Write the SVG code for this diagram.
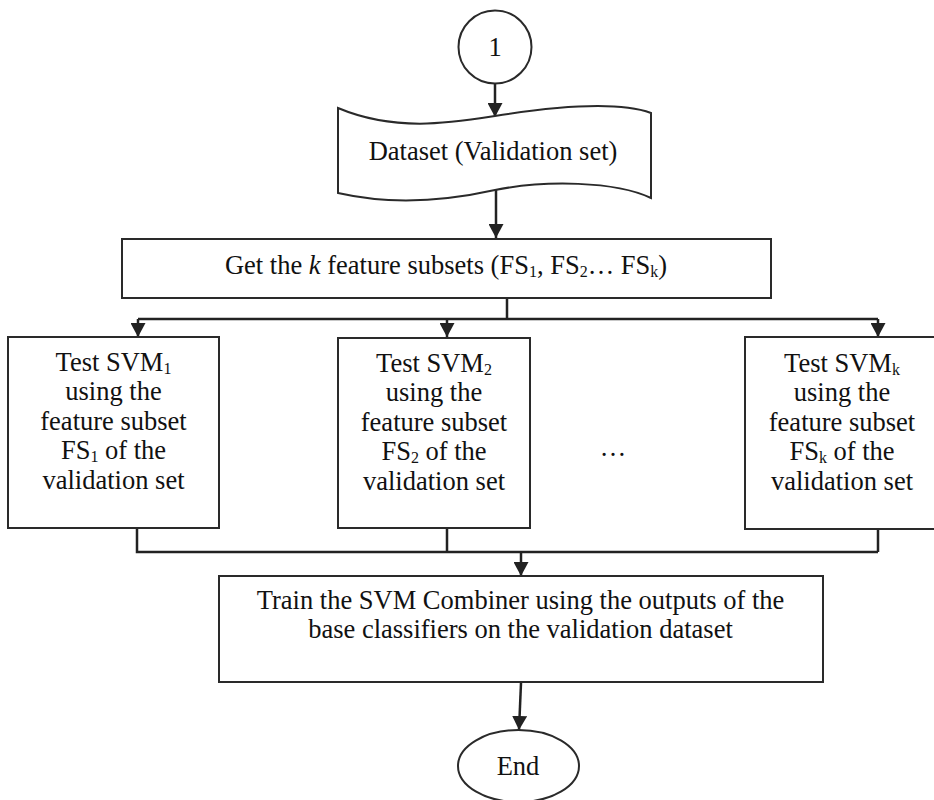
<svg xmlns="http://www.w3.org/2000/svg" width="934" height="800" viewBox="0 0 934 800">
<defs>
<marker id="arr" viewBox="0 0 14 15" refX="14" refY="7.5" markerWidth="14" markerHeight="15" markerUnits="userSpaceOnUse" orient="auto">
<path d="M0,0 L14,7.5 L0,15 z" fill="#222"/>
</marker>
<style>
.box{fill:#fff;stroke:#2a2a2a;stroke-width:2}
.ln{fill:none;stroke:#222;stroke-width:2.5}
.ar{fill:none;stroke:#222;stroke-width:2.5;marker-end:url(#arr)}
text{font-family:"Liberation Serif","Times New Roman",serif;font-size:26.5px;fill:#111;text-anchor:middle}
.sb{font-size:16px}
</style>
</defs>
<rect width="934" height="800" fill="#fff"/>
<g id="connectors">
<path class="ar" d="M495,83 L495,117"/>
<path class="ar" d="M496,190 L496,238"/>
<path class="ln" d="M507,298 L507,319 M138,319 L878,319"/>
<path class="ar" d="M138,319 L138,337"/>
<path class="ar" d="M447,319 L447,337"/>
<path class="ar" d="M878,319 L878,337"/>
<path class="ln" d="M137,528 L137,552 L878,552 M447,528 L447,552 M878,529 L878,552"/>
<path class="ar" d="M521,552 L521,576"/>
<path class="ar" d="M521,683 L519,730"/>
</g>
<g id="start">
<circle cx="495" cy="47" r="36.5" class="box"/>
<text x="495" y="56">1</text>
</g>
<g id="dataset">
<path class="box" d="M338,108 C395,132 450,123 495,116 C545,108 615,100 651,113 L651,198 C615,181 545,180 495,190 C450,200 395,206 338,193 Z"/>
<text x="493" y="160">Dataset (Validation set)</text>
</g>
<g id="get-subsets">
<rect class="box" x="122" y="239" width="649" height="59"/>
<text x="446" y="274">Get the <tspan font-style="italic">k</tspan> feature subsets (FS<tspan class="sb" dy="3">1</tspan><tspan dy="-3">, FS</tspan><tspan class="sb" dy="3">2</tspan><tspan dy="-3">… FS</tspan><tspan class="sb" dy="3">k</tspan><tspan dy="-3">)</tspan></text>
</g>
<g id="svm1">
<rect class="box" x="8" y="337" width="211" height="191"/>
<text x="113.5" y="371">Test SVM<tspan class="sb" dy="3">1</tspan></text>
<text x="113.5" y="400">using the</text>
<text x="113.5" y="430">feature subset</text>
<text x="113.5" y="459">FS<tspan class="sb" dy="3">1</tspan><tspan dy="-3"> of the</tspan></text>
<text x="113.5" y="489">validation set</text>
</g>
<g id="svm2">
<rect class="box" x="338" y="338" width="192" height="190"/>
<text x="434" y="372">Test SVM<tspan class="sb" dy="3">2</tspan></text>
<text x="434" y="401">using the</text>
<text x="434" y="431">feature subset</text>
<text x="434" y="460">FS<tspan class="sb" dy="3">2</tspan><tspan dy="-3"> of the</tspan></text>
<text x="434" y="490">validation set</text>
</g>
<g id="ellipsis">
<text x="613" y="456">…</text>
</g>
<g id="svmk">
<rect class="box" x="745" y="337" width="200" height="192"/>
<text x="842" y="372">Test SVM<tspan class="sb" dy="3">k</tspan></text>
<text x="842" y="401">using the</text>
<text x="842" y="431">feature subset</text>
<text x="842" y="460">FS<tspan class="sb" dy="3">k</tspan><tspan dy="-3"> of the</tspan></text>
<text x="842" y="490">validation set</text>
</g>
<g id="train">
<rect class="box" x="219" y="576" width="604" height="106"/>
<text x="520.5" y="609">Train the SVM Combiner using the outputs of the</text>
<text x="520.5" y="638">base classifiers on the validation dataset</text>
</g>
<g id="end">
<ellipse class="box" cx="518.5" cy="766" rx="60.5" ry="36"/>
<text x="518" y="775">End</text>
</g>
</svg>
